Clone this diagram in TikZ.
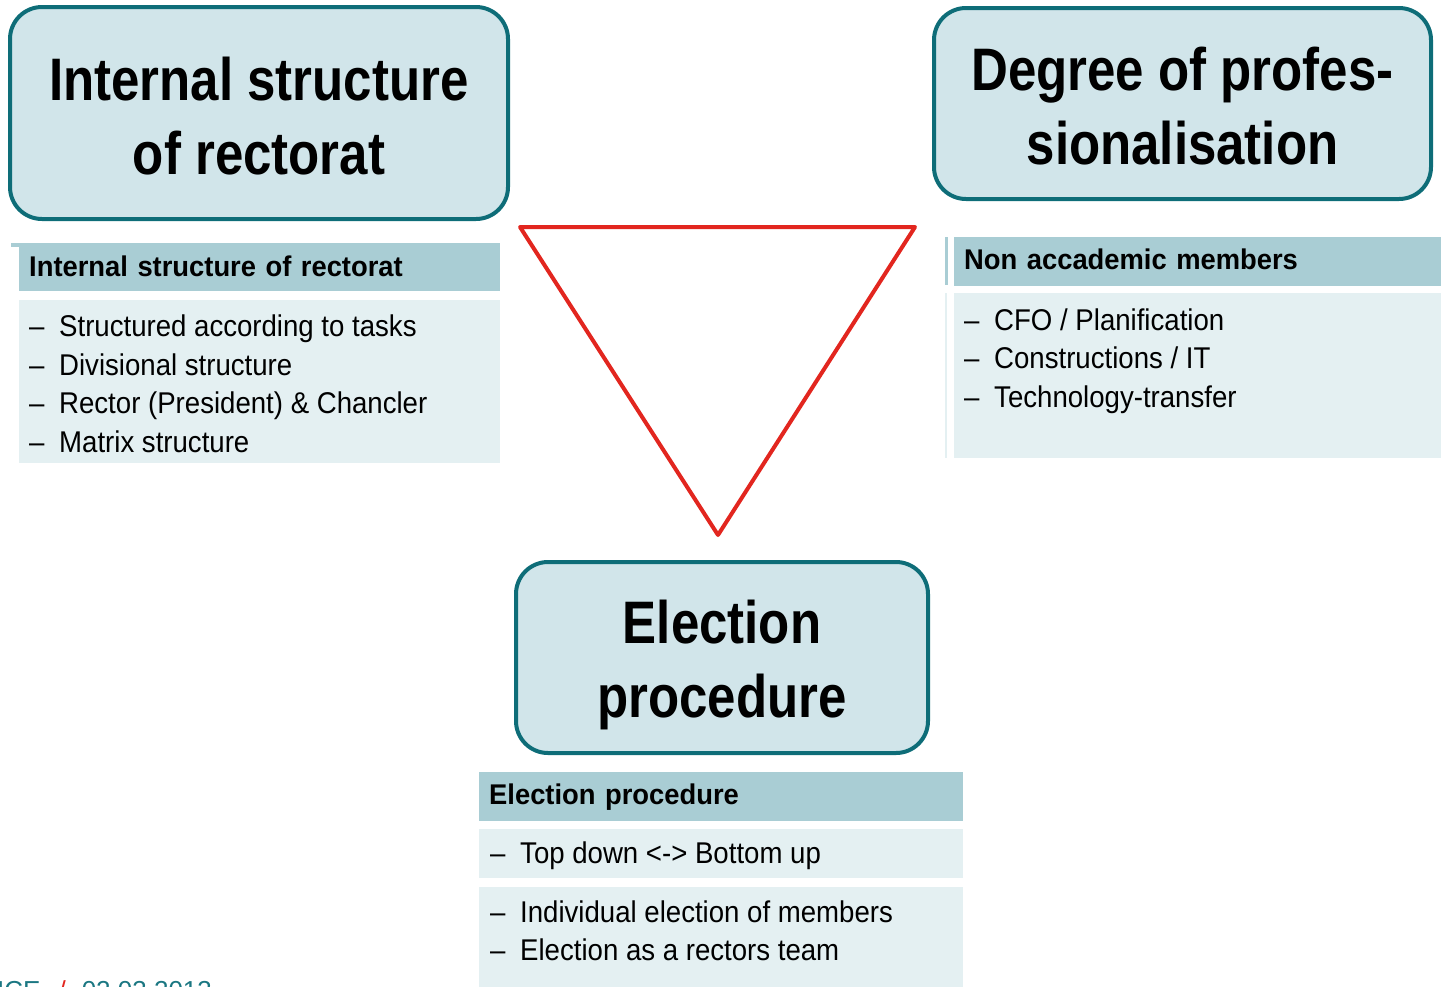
\documentclass[tikz,border=0pt]{standalone}
\usepackage{fontspec}
\setmainfont{Liberation Sans}
\newfontfamily\titlefont{Liberation Sans}[FakeStretch=0.85]
\newfontfamily\headfont{Liberation Sans}[FakeStretch=0.96]
\newfontfamily\itemfont{Liberation Sans}[FakeStretch=0.92]
\usepackage{xcolor}
\usetikzlibrary{calc, positioning}

\definecolor{boxfill}{HTML}{D1E5EA}
\definecolor{boxline}{HTML}{0E6D78}
\definecolor{headfill}{HTML}{A9CDD4}
\definecolor{bodyfill}{HTML}{E4F0F2}
\definecolor{trired}{HTML}{E2261F}
\definecolor{foottext}{HTML}{1B7782}

\newcommand{\listdash}{\makebox[30pt][l]{\textendash}}
\newcommand{\titlestrut}[1]{\rule{0pt}{#1}}

\begin{document}
\begin{tikzpicture}[x=1pt, y=-1pt,
    titlebox/.style={draw=boxline, line width=4pt, fill=boxfill, rounded corners=32pt,
      align=center, inner sep=0pt, font=\titlefont\bfseries\fontsize{60}{74}\selectfont},
    headbar/.style={fill=headfill, anchor=north west, inner xsep=10pt, inner ysep=0pt,
      text height=21pt, text depth=6pt, align=left,
      font=\headfont\bfseries\fontsize{28.5}{34}\selectfont},
    bodybox/.style={fill=bodyfill, anchor=north west, inner sep=0pt},
    item/.style={anchor=base west, inner sep=0pt, font=\itemfont\fontsize{30}{36}\selectfont},
    redline/.style={draw=trired, line width=4pt, line join=round}]
    \useasboundingbox (0,0) rectangle (1441,986);
    \clip (0,0) rectangle (1441,986);

    % the three corners
    \node[titlebox, minimum width=498, minimum height=212] (rectTitle) at (259,113)
      {\titlestrut{49pt}Internal structure\\of rectorat};
    \node[titlebox, minimum width=497, minimum height=191] (profTitle) at (1182.5,103.5)
      {\titlestrut{49pt}Degree of profes-\\sionalisation};
    \node[titlebox, minimum width=412, minimum height=191] (electTitle) at (722,657.5)
      {\titlestrut{59pt}Election\\procedure};

    % triangle in the middle
    \coordinate (triLeft) at (520,227);
    \coordinate (triRight) at (915,227);
    \coordinate (triBottom) at (718,535);
    \draw[redline] (triLeft) -- (triRight) -- (triBottom) -- cycle;

    % left table
    \fill[headfill] (11,243) rectangle (500,247);
    \node[headbar, minimum width=481, minimum height=44, text width=461] (rectHead) at (19,247)
      {Internal structure of rectorat};
    \node[bodybox, minimum width=481, minimum height=163] (rectBody) at (19,300) {};
    \node[item] (rectItemA) at (29,336) {\listdash Structured according to tasks};
    \node[item] (rectItemB) at (29,375) {\listdash Divisional structure};
    \node[item] (rectItemC) at (29,413) {\listdash Rector (President) \& Chancler};
    \node[item] (rectItemD) at (29,452) {\listdash Matrix structure};

    % right table
    \fill[headfill] (945,237) rectangle (948,285);
    \fill[bodyfill] (945,293) rectangle (947,458);
    \node[headbar, minimum width=491, minimum height=49, text width=471] (profHead) at (954,237)
      {Non accademic members};
    \node[bodybox, minimum width=491, minimum height=165] (profBody) at (954,293) {};
    \node[item] (profItemA) at (964,330) {\listdash CFO / Planification};
    \node[item] (profItemB) at (964,368) {\listdash Constructions / IT};
    \node[item] (profItemC) at (964,407) {\listdash Technology-transfer};

    % bottom table
    \node[headbar, minimum width=484, minimum height=49, text width=464] (electHead) at (479,772)
      {Election procedure};
    \node[bodybox, minimum width=484, minimum height=49] (electBodyA) at (479,829) {};
    \node[bodybox, minimum width=484, minimum height=120] (electBodyB) at (479,887) {};
    \node[item] (electItemA) at (490,863) {\listdash Top down <-> Bottom up};
    \node[item] (electItemB) at (490,922) {\listdash Individual election of members};
    \node[item] (electItemC) at (490,960) {\listdash Election as a rectors team};

    % footer, cut by the page edge
    \node[anchor=base west, inner sep=0pt, text=foottext, font=\fontsize{26}{30}\selectfont]
      (footer) at (-3,999) {ICE\hspace{18pt}{\color{trired}/}\hspace{16pt}02.03.2013};
\end{tikzpicture}
\end{document}
